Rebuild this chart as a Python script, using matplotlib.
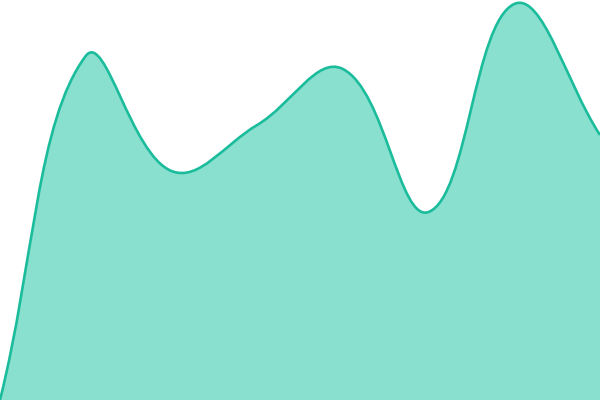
import numpy as np
import matplotlib.pyplot as plt
from matplotlib.path import Path
from matplotlib.patches import PathPatch

# values (pixel height 400 = top)
xs = [0, 1, 2, 3, 4, 5, 6, 7]
values = [0, 344, 229, 275, 331, 188, 396, 265]

line_color = "#1abc9c"
fill_color = "#8ae0cf"


def spline_path(x, y, t=0.4, sx=600 / 7):
    # distance-weighted spline (pixel space), control points per point
    pts = np.column_stack([np.asarray(x, float) * sx, np.asarray(y, float)])
    n = len(pts)
    before, after = [], []
    for i in range(n):
        cur = pts[i]
        prev = pts[i - 1] if i > 0 else cur
        nxt = pts[i + 1] if i < n - 1 else cur
        d01 = np.linalg.norm(cur - prev)
        d12 = np.linalg.norm(nxt - cur)
        tot = d01 + d12
        s01 = d01 / tot if tot else 0
        s12 = d12 / tot if tot else 0
        before.append(cur - t * s01 * (nxt - prev))
        after.append(cur + t * s12 * (nxt - prev))
    verts = [tuple(pts[0])]
    codes = [Path.MOVETO]
    for i in range(n - 1):
        verts += [tuple(after[i]), tuple(before[i + 1]), tuple(pts[i + 1])]
        codes += [Path.CURVE4] * 3
    verts = [(vx / sx, vy) for vx, vy in verts]
    return verts, codes


fig = plt.figure(figsize=(6, 4), dpi=100)
ax = fig.add_axes([0, 0, 1, 1])

verts, codes = spline_path(xs, values)

area_verts = verts + [(xs[-1], 0), (xs[0], 0), (xs[0], values[0])]
area_codes = codes + [Path.LINETO, Path.LINETO, Path.CLOSEPOLY]
ax.add_patch(PathPatch(Path(area_verts, area_codes), facecolor=fill_color, edgecolor="none"))
ax.add_patch(PathPatch(Path(verts, codes), facecolor="none", edgecolor=line_color, lw=1.9))

ax.set_xlim(xs[0], xs[-1])
ax.set_ylim(0, 400)
ax.axis("off")

fig.savefig("out.png", dpi=100)
